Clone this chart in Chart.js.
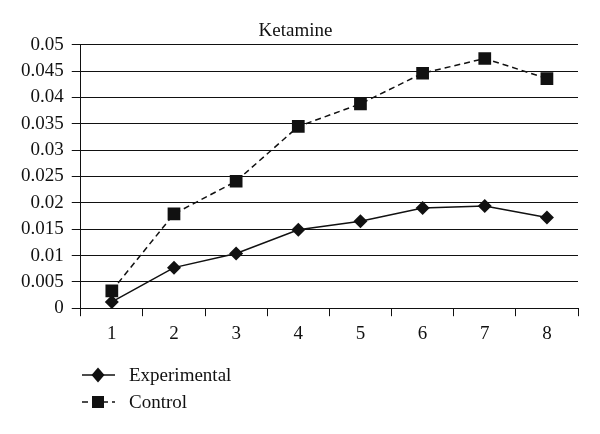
<!DOCTYPE html>
<html>
<head>
<meta charset="utf-8">
<script src="https://cdn.jsdelivr.net/npm/chart.js@4/dist/chart.umd.min.js"></script>
<style>
html, body { margin: 0; padding: 0; background: #fff; }
#wrap { width: 600px; height: 434px; }
</style>
</head>
<body>
<div id="wrap"><canvas id="grafico"></canvas></div>
<script>
const categorias = ['1', '2', '3', '4', '5', '6', '7', '8'];
const experimental = [0.0012, 0.0077, 0.0104, 0.0149, 0.0165, 0.0190, 0.0194, 0.0172];
const controle = [0.0033, 0.0179, 0.0241, 0.0345, 0.0388, 0.0446, 0.0474, 0.0436];
const nomesSeries = ['Experimental', 'Control'];
const titulo = 'Ketamine';
const yMin = 0, yMax = 0.05, yPasso = 0.005;

const fonte = '"Liberation Serif", "Times New Roman", serif';
const cor = '#111';

function desenhaMarcador(ctx, estilo, x, y){
	ctx.beginPath();
	if (estilo === 'rectRot') {
		ctx.moveTo(x, y - 7.5);
		ctx.lineTo(x + 6.5, y);
		ctx.lineTo(x, y + 7.5);
		ctx.lineTo(x - 6.5, y);
	} else {
		ctx.rect(x - 6, y - 6, 12, 12);
	}
	ctx.closePath();
	ctx.fill();
}

// legenda em duas linhas, embaixo a esquerda
const legendaPlugin = {
	id: 'legenda',
	afterDraw(chart) {
		const ctx = chart.ctx;
		const x0 = 82;
		const y0 = chart.height - 59;
		chart.data.datasets.forEach((ds, i) => {
			const y = y0 + i * 27;
			ctx.save();
			ctx.strokeStyle = cor;
			ctx.fillStyle = cor;
			ctx.lineWidth = 1.5;
			ctx.setLineDash(ds.borderDash || []);
			ctx.beginPath();
			ctx.moveTo(x0, y);
			ctx.lineTo(x0 + 33, y);
			ctx.stroke();
			ctx.setLineDash([]);
			desenhaMarcador(ctx, ds.pointStyle, x0 + 16, y);
			ctx.font = '19px ' + fonte;
			ctx.textBaseline = 'middle';
			ctx.fillText(ds.label, x0 + 47, y + 1);
			ctx.restore();
		});
	}
};

const ctx = document.getElementById('grafico');

new Chart(ctx, {
	type: 'line',
	data: {
		labels: categorias,
		datasets: [{
			label: nomesSeries[0],
			data: experimental,
			borderColor: cor,
			backgroundColor: cor,
			borderWidth: 1.5,
			pointStyle: 'rectRot',
			pointRadius: 7,
			pointBackgroundColor: cor,
			pointBorderWidth: 0,
			tension: 0
		}, {
			label: nomesSeries[1],
			data: controle,
			borderColor: cor,
			backgroundColor: cor,
			borderWidth: 1.5,
			borderDash: [6, 4],
			pointStyle: 'rect',
			pointRadius: 9,
			pointBackgroundColor: cor,
			pointBorderWidth: 0,
			tension: 0
		}]
	},
	options: {
		responsive: true,
		maintainAspectRatio: false,
		animation: false,
		events: [],
		layout: {
			padding: { left: 13, right: 22, top: 0, bottom: 83 }
		},
		plugins: {
			legend: { display: false },
			tooltip: { enabled: false },
			title: {
				display: true,
				text: titulo,
				color: cor,
				font: { family: fonte, size: 19, weight: 'normal' },
				padding: { top: 20, bottom: 2 }
			}
		},
		scales: {
			x: {
				offset: true,
				grid: {
					offset: true,
					color: (c) => (c.index === 0 || c.index === categorias.length) ? cor : 'transparent',
					tickColor: cor,
					tickLength: 8,
					lineWidth: 1
				},
				border: { display: true, color: cor, width: 1 },
				ticks: {
					color: cor,
					padding: 6,
					font: { family: fonte, size: 19 }
				}
			},
			y: {
				min: yMin,
				max: yMax,
				grid: {
					color: cor,
					tickColor: cor,
					tickLength: 9,
					lineWidth: 1
				},
				border: { display: true, color: cor, width: 1 },
				ticks: {
					stepSize: yPasso,
					autoSkip: false,
					color: cor,
					padding: 8,
					font: { family: fonte, size: 19 },
					callback: (v) => Number(v.toFixed(3)).toString()
				}
			}
		}
	},
	plugins: [legendaPlugin]
});
</script>
</body>
</html>
